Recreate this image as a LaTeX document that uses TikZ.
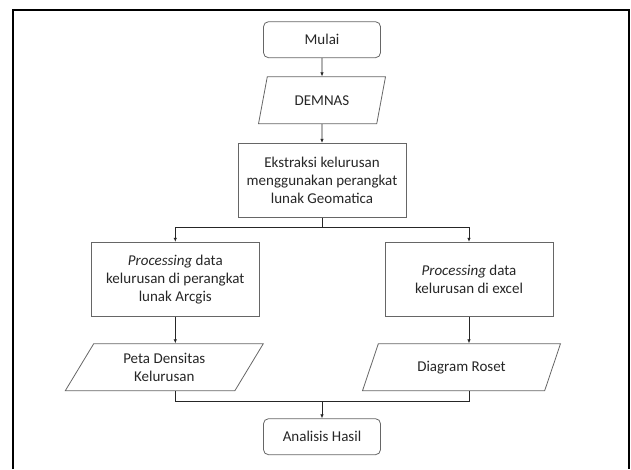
\documentclass[tikz,border=0pt]{standalone}
\usepackage{fontspec}
\setmainfont{Carlito}
\usetikzlibrary{arrows.meta, positioning, shapes.geometric}
\tikzset{node distance = 80pt, on grid,
         >= {Latex[length = 4pt, width = 3.5pt]},
         every node/.style = {font = \fontsize{15}{18}\selectfont,
                              text = black!85, align = center},
         terminal/.style = {draw = black!60, line width = 0.8pt,
                            rounded corners = 5pt,
                            minimum width = 117pt, minimum height = 36pt},
         process/.style = {draw = black!60, line width = 0.8pt,
                           minimum width = 168pt, minimum height = 74pt},
         io/.style = {draw = black!60, line width = 0.8pt,
                      trapezium, trapezium stretches body,
                      minimum height = 47pt},
         link/.style = {draw = black!85, line width = 0.7pt}}

\begin{document}
\begin{tikzpicture}[x = 1pt, y = 1pt]
        \useasboundingbox (0,0) rectangle (631,-469);
        \draw[line width = 2pt] (13,-469) -- (13,-10) -- (629,-10) -- (629,-469);

        \node[terminal]  (mulai)     at (322,-39.7)                       {Mulai};
        \node[io, trapezium left angle = 62, trapezium right angle = 118,
              minimum width = 127pt]
                         (demnas)    [below = 60.6pt of mulai]            {DEMNAS};
        \node[process]   (ekstraksi) [below = 80pt of demnas]             {Ekstraksi kelurusan\\menggunakan perangkat\\lunak Geomatica};
        \node[process]   (arcgis)    [below left = 98.9pt and 146.7pt of ekstraksi]
                                                                          {\textit{Processing} data\\kelurusan di perangkat\\lunak Arcgis};
        \node[process]   (excel)     [below right = 98.9pt and 147pt of ekstraksi]
                                                                          {\textit{Processing} data\\kelurusan di excel};
        \node[io, trapezium left angle = 51, trapezium right angle = 129,
              minimum width = 198pt]
                         (peta)      [below = 88pt of arcgis, xshift = -11pt]
                                                                          {Peta Densitas\\Kelurusan};
        \node[io, trapezium left angle = 51, trapezium right angle = 129,
              minimum width = 198pt]
                         (roset)     [below = 88pt of excel, xshift = -7.5pt]
                                                                          {Diagram Roset};
        \node[terminal]  (analisis)  [below = 256.4pt of ekstraksi]       {Analisis Hasil};

        \coordinate[below = 9.4pt of ekstraksi.south]  (cabang);
        \coordinate[above = 16.6pt of analisis.north]  (gabung);

        \path[link, ->]  (mulai)     -- (demnas);
        \path[link, ->]  (demnas)    -- (ekstraksi);
        \path[link]      (ekstraksi) -- (cabang);
        \path[link, ->]  (cabang)    -| (arcgis);
        \path[link, ->]  (cabang)    -| (excel);
        \path[link, ->]  (arcgis)    -- (arcgis |- peta.north);
        \path[link, ->]  (excel)     -- (excel |- roset.north);
        \path[link]      (arcgis |- peta.south) |- (gabung) -| (excel |- roset.south);
        \path[link, ->]  (gabung)    -- (analisis);
\end{tikzpicture}
\end{document}
